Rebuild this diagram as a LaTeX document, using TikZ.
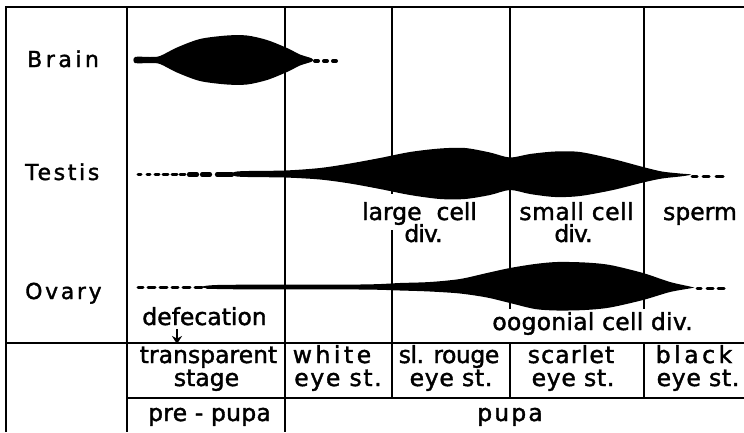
\documentclass[tikz,border=0pt]{standalone}
\usepackage{fontspec}
\setmainfont{DejaVu Sans}[FakeBold=1.6]
\usetikzlibrary{arrows.meta}
\newcommand{\myls}[1]{\addfontfeature{LetterSpace=#1}}
\begin{document}
\begin{tikzpicture}[x=1pt,y=-1pt,
  grid/.style={line width=2.2pt},
  lbl/.style={inner sep=0pt, anchor=base, font=\fontsize{23.5}{28}\selectfont},
  organ/.style={inner sep=0pt, anchor=base west, font=\fontsize{22}{26}\selectfont},
  blob/.style={fill=black, draw=none},
  dsh/.style={line width=3pt, line cap=round},
  dshb/.style={line width=4.2pt, line cap=round}
]
\useasboundingbox (0,0) rectangle (744,432);

% grid
\draw[grid] (6,432) -- (6,7) -- (744,7);
\draw[grid] (127,7) -- (127,432);
\draw[grid] (285,7) -- (285,432);
\draw[grid] (392,7) -- (392,194);
\draw[grid] (392,230) -- (392,398);
\draw[grid] (510,7) -- (510,309);
\draw[grid] (644,7) -- (644,309);
\draw[grid] (510,343) -- (510,398);
\draw[grid] (644,343) -- (644,398);
\draw[grid] (6,343) -- (744,343);
\draw[grid] (127,398) -- (744,398);

% labels
\node[organ] (brain) at (27,67) {\myls{16}Brain};
\node[organ] (testis) at (25,180) {\myls{12}Testis};
\node[organ] (ovary) at (25,299) {\myls{12}Ovary};

\node[lbl] (defec) at (204.5,325) {defecation};
\node[lbl] (transp) at (208.5,363) {transparent};
\node[lbl] (stage) at (206.5,386) {stage};
\node[lbl] (white) at (332,363) {\myls{15}white};
\node[lbl] (eyeA) at (338,386) {\myls{7}eye st.};
\node[lbl] (rouge) at (449,363) {\myls{-2}sl. rouge};
\node[lbl] (eyeB) at (451,386) {\myls{3}eye st.};
\node[lbl] (scarlet) at (571,363) {\myls{5}scarlet};
\node[lbl] (eyeC) at (573,386) {\myls{3}eye st.};
\node[lbl] (black) at (694,363) {\myls{15}black};
\node[lbl] (eyeD) at (698,386) {\myls{3}eye st.};
\node[lbl] (prepupa) at (209.5,421) {\myls{1}pre - pupa};
\node[lbl] (pupa) at (510,421) {\myls{9}pupa};
\node[lbl] (large) at (419.5,220) {large~~cell};
\node[lbl] (divA) at (423.5,242) {\myls{-4}div.};
\node[lbl] (small) at (576.5,220) {\myls{2}small cell};
\node[lbl] (divB) at (573.5,242) {\myls{-4}div.};
\node[lbl] (sperm) at (700,220) {sperm};
\node[lbl] (oogon) at (592.5,330) {\myls{1}oogonial cell div.};

% defecation arrow
\coordinate (atop) at (177,329);
\coordinate (atip) at (177,344);
\draw[line width=2.4pt, -{Stealth[length=8pt,width=10pt]}] (atop) -- (atip);

% Brain
\fill[blob] plot[smooth cycle, tension=0.5] coordinates {
 (135,57) (150,57) (160,56) (177,47.5) (200,39) (227,35.5) (247,35.5) (267,40) (287,48) (300,54.5) (312,58.5)
 (312,61.5) (300,65.5) (287,72) (267,80) (247,84.5) (227,84.5) (200,81) (177,72.5) (160,64) (150,63) (135,63)};
\draw[line width=4pt, line cap=round] (315,61) -- (318,61);
\draw[line width=4pt, line cap=round] (324,61) -- (327,61);
\draw[line width=4pt, line cap=round] (333,61) -- (336,61);

% Testis
\foreach \a/\b in {138/141,147/150,155/159,163/168,172/177,180/185}
  \draw[dsh] (\a,174.5) -- (\b,174.5);
\foreach \a/\b in {189/197,202/210,217/232}
  \draw[dshb] (\a,174.5) -- (\b,174.5);
\fill[blob] plot[smooth cycle, tension=0.5] coordinates {
 (237,171.5) (285,170.5) (320,168) (350,163.5) (380,158) (410,152) (440,148.5) (465,148) (490,152.5) (510,157.5) (530,154) (555,151.5) (580,152) (613,159) (643,167) (662,171.5) (680,173.5) (690,174.3)
 (690,175) (680,176.5) (662,178.5) (643,182.5) (613,190) (580,196) (555,197) (530,194) (510,190) (490,195) (465,199) (440,199) (410,195) (380,189) (350,183.5) (320,179.5) (285,177.5) (237,176.5)};
\foreach \a/\b in {692/697,703/709,716/723}
  \draw[dsh] (\a,176) -- (\b,176);

% Ovary
\foreach \a/\b in {138/143,148/155,160/167,172/178,183/190,195/202,207/213}
  \draw[dsh] (\a,287) -- (\b,287);
\fill[blob] plot[smooth cycle, tension=0.5] coordinates {
 (217,285) (360,284.5) (400,283) (430,282) (460,279) (487,273) (510,268) (535,264) (557,262) (585,262.5) (610,265) (643,273) (670,282) (692,287)
 (692,288) (670,292) (643,300) (610,307.5) (585,310) (557,310.5) (535,309) (510,303) (487,297.5) (460,293.5) (430,291.5) (400,290.5) (360,289.5) (217,289)};
\foreach \a/\b in {697/701,707/713,718/724}
  \draw[dsh] (\a,288) -- (\b,288);
\end{tikzpicture}
\end{document}
